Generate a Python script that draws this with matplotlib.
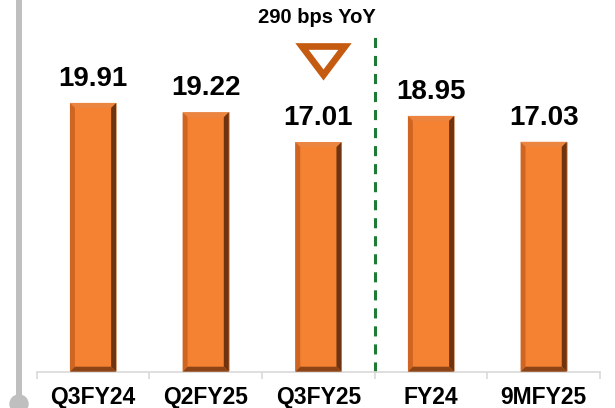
import matplotlib
matplotlib.use("Agg")
import matplotlib.pyplot as plt
from matplotlib.patches import Polygon, Circle
import numpy as np

# --- data ---
categories = ["Q3FY24", "Q2FY25", "Q3FY25", "FY24", "9MFY25"]
values = [19.91, 19.22, 17.01, 18.95, 17.03]
value_labels = ["19.91", "19.22", "17.01", "18.95", "17.03"]
change_note = "290 bps YoY"

W, H = 615, 408
plt.rcParams["font.family"] = ["Liberation Sans", "DejaVu Sans"]

fig = plt.figure(figsize=(W / 100, H / 100), dpi=100)

# chart axes placed in pixel terms: categories span x 36.7..600, baseline at y 371.7
left_px, right_px, base_px = 36.7, 600.0, 371.7
px_per_unit = 13.5
ax = fig.add_axes([left_px / W, (H - base_px) / H, (right_px - left_px) / W, base_px / H])
ax.set_xlim(-0.5, len(categories) - 0.5)
ax.set_ylim(0, base_px / px_per_unit)
for s in ["top", "right", "left"]:
    ax.spines[s].set_visible(False)
ax.spines["bottom"].set_color("#d9d9d9")
ax.spines["bottom"].set_linewidth(1.2)
ax.set_yticks([])

x = np.arange(len(categories))
bar_w = 0.41
bars = ax.bar(x, values, width=bar_w, color="#f58233", edgecolor="#e0b090", linewidth=0.6, zorder=2)

# bevel look on each bar
bx = 5 / 112.6
by = 5 / px_per_unit
for b in bars:
    x0 = b.get_x()
    x1 = x0 + b.get_width()
    h = b.get_height()
    sides = [
        ([(x0, h), (x1, h), (x1 - bx, h - by), (x0 + bx, h - by)], "#ec8540"),
        ([(x0, 0), (x0, h), (x0 + bx, h - by), (x0 + bx, by)], "#d06522"),
        ([(x1, 0), (x1, h), (x1 - bx, h - by), (x1 - bx, by)], "#6e3411"),
        ([(x0, 0), (x1, 0), (x1 - bx, by), (x0 + bx, by)], "#8c4315"),
    ]
    for pts, c in sides:
        ax.add_patch(Polygon(pts, closed=True, facecolor=c, edgecolor="none", zorder=3))

for xi, v, lab in zip(x, values, value_labels):
    ax.text(xi, v + 17 / px_per_unit, lab, ha="center", va="baseline",
            fontsize=20, fontweight="bold", color="black")

# category ticks: labels centred, small tick marks at boundaries
ax.set_xticks(x)
ax.set_xticklabels(categories, fontsize=16.5, fontweight="bold")
ax.tick_params(axis="x", which="major", length=0, pad=10.5)
ax.set_xticks(np.arange(-0.5, len(categories)), minor=True)
ax.tick_params(axis="x", which="minor", length=5, width=1.2, color="#d9d9d9", direction="out")

# dashed separator between quarterly and yearly figures
ax.plot([2.5, 2.5], [0, (base_px - 33) / px_per_unit], color="#1f7a36", lw=2.2,
        dashes=(3.3, 2.6), zorder=1, clip_on=False)

# overlay in pixel coordinates for the decorations
deco = fig.add_axes([0, 0, 1, 1], facecolor="none")
deco.set_xlim(0, W)
deco.set_ylim(H, 0)
deco.axis("off")
deco.plot([19, 19], [0, 397], color="#bfbfbf", lw=4.3, solid_capstyle="butt")
deco.add_patch(Circle((19, 404), 9, color="#bfbfbf"))
deco.add_patch(Polygon([(302, 46.5), (345, 46.5), (323.5, 75)], closed=True, fill=False,
                       edgecolor="#c55a11", lw=4.8, joinstyle="miter"))
deco.text(316.7, 23, change_note, ha="center", va="baseline", fontsize=14.5,
          fontweight="bold", color="black")

fig.savefig("out.png", dpi=100)
